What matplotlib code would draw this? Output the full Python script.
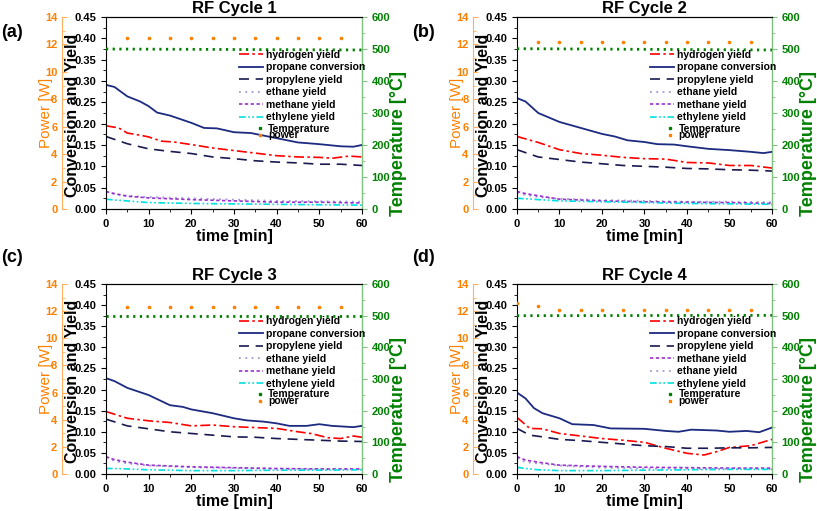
import numpy as np
import matplotlib
matplotlib.use('Agg')
import matplotlib.pyplot as plt
from matplotlib.ticker import MultipleLocator
from matplotlib.lines import Line2D

plt.rcParams['font.family'] = ['Liberation Sans', 'DejaVu Sans']

# Час для побічних продуктів та пропілену
t_std = [0, 5, 10, 15, 20, 25, 30, 35, 40, 45, 50, 55, 60]
t_minor = [0, 2, 5, 10, 20, 30, 40, 50, 60]

# Цикл 1
t_a_prop = [0, 2, 5, 8, 10, 12, 15, 20, 23, 26, 30, 34, 40, 45, 50, 55, 58, 60]
prop_a = [0.291, 0.286, 0.264, 0.252, 0.241, 0.226, 0.219, 0.202, 0.190, 0.189, 0.180, 0.178, 0.166, 0.156, 0.152, 0.147, 0.146, 0.150]
t_a_h2 = [0, 3, 5, 8, 10, 13, 16, 20, 25, 30, 35, 40, 45, 50, 53, 57, 60]
h2_a = [0.195, 0.190, 0.178, 0.173, 0.169, 0.159, 0.157, 0.151, 0.143, 0.137, 0.131, 0.125, 0.122, 0.121, 0.119, 0.124, 0.122]
pyl_a = [0.170, 0.153, 0.141, 0.135, 0.130, 0.122, 0.118, 0.113, 0.110, 0.108, 0.105, 0.105, 0.102]
meth_a = [0.041, 0.036, 0.030, 0.026, 0.022, 0.019, 0.016, 0.016, 0.014]
eth_a = [0.040, 0.035, 0.031, 0.028, 0.025, 0.022, 0.019, 0.018, 0.017]
ethy_a = [0.023, 0.021, 0.019, 0.015, 0.013, 0.012, 0.011, 0.010, 0.009]

# Цикл 2
t_b_prop = [0, 2, 5, 10, 15, 20, 23, 26, 30, 33, 37, 40, 45, 50, 55, 58, 60]
prop_b = [0.260, 0.252, 0.225, 0.204, 0.190, 0.176, 0.170, 0.161, 0.157, 0.152, 0.151, 0.147, 0.141, 0.138, 0.134, 0.131, 0.134]
h2_b = [0.170, 0.156, 0.139, 0.130, 0.126, 0.121, 0.118, 0.117, 0.109, 0.108, 0.102, 0.102, 0.096]
pyl_b = [0.139, 0.122, 0.116, 0.110, 0.106, 0.102, 0.100, 0.098, 0.095, 0.094, 0.092, 0.091, 0.089]
meth_b = [0.041, 0.036, 0.031, 0.023, 0.019, 0.017, 0.016, 0.015, 0.013]
eth_b = [0.038, 0.033, 0.028, 0.024, 0.021, 0.019, 0.017, 0.017, 0.016]
ethy_b = [0.025, 0.024, 0.022, 0.019, 0.017, 0.015, 0.013, 0.012, 0.011]

# Цикл 3
t_c_prop = [0, 2, 5, 10, 15, 18, 20, 25, 30, 33, 37, 40, 43, 47, 50, 53, 58, 60]
prop_c = [0.227, 0.220, 0.204, 0.187, 0.163, 0.159, 0.153, 0.144, 0.132, 0.127, 0.124, 0.120, 0.114, 0.114, 0.118, 0.114, 0.111, 0.114]
t_c_h2 = [0, 5, 10, 15, 20, 25, 30, 35, 40, 45, 48, 52, 55, 58, 60]
h2_c = [0.148, 0.132, 0.126, 0.122, 0.114, 0.116, 0.112, 0.110, 0.108, 0.100, 0.096, 0.086, 0.084, 0.090, 0.087]
pyl_c = [0.130, 0.114, 0.107, 0.100, 0.096, 0.092, 0.088, 0.087, 0.084, 0.082, 0.080, 0.078, 0.077]
meth_c = [0.041, 0.034, 0.028, 0.021, 0.017, 0.015, 0.013, 0.012, 0.012]
eth_c = [0.038, 0.031, 0.025, 0.020, 0.016, 0.014, 0.012, 0.011, 0.011]
ethy_c = [0.013, 0.013, 0.012, 0.010, 0.008, 0.008, 0.009, 0.009, 0.010]

# Цикл 4
t_d_prop = [0, 2, 4, 6, 10, 13, 18, 22, 30, 35, 38, 41, 47, 50, 54, 57, 60]
prop_d = [0.193, 0.179, 0.156, 0.144, 0.132, 0.118, 0.116, 0.108, 0.107, 0.102, 0.100, 0.105, 0.103, 0.100, 0.102, 0.099, 0.110]
t_d_h2 = [0, 3, 6, 10, 15, 20, 25, 30, 35, 40, 44, 47, 50, 55, 60]
h2_d = [0.134, 0.108, 0.107, 0.096, 0.090, 0.084, 0.080, 0.075, 0.061, 0.049, 0.045, 0.053, 0.063, 0.067, 0.082]
t_d_pyl = [0, 3, 6, 10, 15, 20, 25, 30, 35, 40, 45, 50, 55, 60]
pyl_d = [0.108, 0.092, 0.088, 0.082, 0.079, 0.075, 0.071, 0.067, 0.065, 0.061, 0.061, 0.062, 0.062, 0.063]
meth_d = [0.041, 0.033, 0.028, 0.021, 0.018, 0.016, 0.015, 0.014, 0.014]
eth_d = [0.037, 0.028, 0.025, 0.020, 0.015, 0.013, 0.012, 0.012, 0.012]
ethy_d = [0.016, 0.013, 0.010, 0.008, 0.008, 0.009, 0.010, 0.011, 0.011]

# Температура та потужність
t_temp = [0, 60]
temp_a = [500, 497]
temp_b = [501, 497]
temp_c = [500, 500]
temp_d = [500, 501]
t_pow = [5, 10, 15, 20, 25, 30, 35, 40, 45, 50, 55]
pow_a = [12.5] * 11
pow_b = [12.2] * 11
pow_c = [12.3] * 11
t_pow_d = [0, 5, 10, 15, 20, 25, 30, 35, 40, 45, 50, 55]
pow_d = [12.6, 12.35, 12.05, 12.05, 12.05, 12.05, 12.05, 12.05, 12.05, 12.05, 12.05, 12.05]

ORANGE = '#ff8000'
GREEN = '#008000'


def draw_panel(pos, title, letter, letter_y, prop, h2, pyl, meth, eth, ethy, temp, power, methane_first=False):
    ax = fig.add_axes(pos)
    l_h2, = ax.plot(h2[0], h2[1], color='red', lw=1.2, ls=(0, (6, 2, 1.5, 2)), label='hydrogen yield')
    l_prop, = ax.plot(prop[0], prop[1], color='#1c2a80', lw=1.3, label='propane conversion')
    l_pyl, = ax.plot(pyl[0], pyl[1], color='#1a1a50', lw=1.2, ls=(0, (6, 4)), label='propylene yield')
    l_eth, = ax.plot(t_minor, eth, color='#9c9cd0', lw=1.3, ls=(0, (1, 2.5)), label='ethane yield')
    l_meth, = ax.plot(t_minor, meth, color='#9b30d0', lw=1.2, ls=(0, (2, 1.5)), label='methane yield')
    l_ethy, = ax.plot(t_minor, ethy, color='#00e0e0', lw=1.2, ls=(0, (4, 1.5, 1, 1.5, 1, 1.5)), label='ethylene yield')
    ax.set_xlim(0, 60)
    ax.set_ylim(0, 0.45)
    ax.xaxis.set_major_locator(MultipleLocator(10))
    ax.xaxis.set_minor_locator(MultipleLocator(5))
    ax.yaxis.set_major_locator(MultipleLocator(0.05))
    ax.yaxis.set_minor_locator(MultipleLocator(0.025))
    ax.yaxis.set_major_formatter(plt.FormatStrFormatter('%.2f'))
    ax.tick_params(which='both', direction='out', labelsize=8)
    ax.tick_params(which='major', length=3.5)
    ax.tick_params(which='minor', length=2)
    for lab in ax.get_xticklabels() + ax.get_yticklabels():
        lab.set_fontweight('bold')
    ax.set_xlabel('time [min]', fontsize=11.5, fontweight='bold', labelpad=0)
    ax.set_ylabel('Conversion and Yield', fontsize=11.5, fontweight='bold')
    ax.yaxis.set_label_coords(-0.10, 0.49)
    ax.set_title(title, fontsize=12, fontweight='bold', pad=3)
    ax.text(-0.41, letter_y, letter, transform=ax.transAxes, fontsize=13, fontweight='bold', ha='left', va='center')

    # Вісь температури (праворуч)
    ax_t = ax.twinx()
    ax_t.plot(t_temp, temp, color=GREEN, lw=2, ls=(0, (0.8, 1.6)))
    ax_t.set_ylim(0, 600)
    ax_t.yaxis.set_major_locator(MultipleLocator(100))
    ax_t.yaxis.set_minor_locator(MultipleLocator(50))
    ax_t.spines['right'].set_color('#80c080')
    ax_t.spines['left'].set_visible(False)
    ax_t.tick_params(which='both', direction='out', colors='#80c080', labelcolor=GREEN, labelsize=8)
    ax_t.tick_params(which='major', length=3.5)
    ax_t.tick_params(which='minor', length=2)
    for lab in ax_t.get_yticklabels():
        lab.set_fontweight('bold')
    ax_t.set_ylabel('Temperature [°C]', fontsize=13, fontweight='bold', color=GREEN)
    ax_t.yaxis.set_label_coords(1.11, 0.34)

    # Вісь потужності (ліворуч, зміщена)
    ax_p = ax.twinx()
    ax_p.plot(power[0], power[1], 'o', color=ORANGE, ms=1.6)
    ax_p.set_ylim(0, 14)
    ax_p.yaxis.set_ticks_position('left')
    ax_p.yaxis.set_label_position('left')
    ax_p.spines['left'].set_position(('outward', 31.5))
    ax_p.spines['left'].set_color('#ffb060')
    ax_p.spines['right'].set_visible(False)
    ax_p.spines['top'].set_visible(False)
    ax_p.spines['bottom'].set_visible(False)
    ax_p.yaxis.set_major_locator(MultipleLocator(2))
    ax_p.yaxis.set_minor_locator(MultipleLocator(1))
    ax_p.tick_params(which='both', direction='in', colors='#ffb060', labelcolor=ORANGE, labelsize=8)
    ax_p.tick_params(which='major', length=3.5)
    ax_p.tick_params(which='minor', length=2)
    for lab in ax_p.get_yticklabels():
        lab.set_fontweight('bold')
    ax_p.set_ylabel('Power [W]', fontsize=11, color=ORANGE)
    ax_p.yaxis.set_label_coords(-0.207, 0.5)

    if methane_first:
        handles = [l_h2, l_prop, l_pyl, l_meth, l_eth, l_ethy]
    else:
        handles = [l_h2, l_prop, l_pyl, l_eth, l_meth, l_ethy]
    leg1 = ax_p.legend(handles=handles, loc='upper left', bbox_to_anchor=(0.52, 0.83), frameon=False,
                       prop={'size': 7.5, 'weight': 'bold'}, handlelength=2.3, handletextpad=0.3,
                       labelspacing=0.24, borderpad=0, borderaxespad=0)
    ax_p.add_artist(leg1)
    # Точкові маркери в легенді для температури та потужності
    h_temp = Line2D([], [], ls='none', marker='s', ms=1.8, color=GREEN, label='Temperature')
    h_pow = Line2D([], [], ls='none', marker='s', ms=1.8, color=ORANGE, label='power')
    ax_p.legend(handles=[h_temp, h_pow], loc='upper left', bbox_to_anchor=(0.585, 0.445), frameon=False,
                prop={'size': 7.5, 'weight': 'bold'}, handlelength=0.8, handletextpad=0.4,
                labelspacing=-0.3, borderpad=0, borderaxespad=0, numpoints=1)
    return ax


fig = plt.figure(figsize=(8.17, 5.11), dpi=100)

draw_panel([0.1297, 0.591, 0.3133, 0.3757], 'RF Cycle 1', '(a)', 0.92,
           (t_a_prop, prop_a), (t_a_h2, h2_a), (t_std, pyl_a), meth_a, eth_a, ethy_a,
           temp_a, (t_pow, pow_a))
draw_panel([0.6328, 0.591, 0.3121, 0.3757], 'RF Cycle 2', '(b)', 0.92,
           (t_b_prop, prop_b), (t_std, h2_b), (t_std, pyl_b), meth_b, eth_b, ethy_b,
           temp_b, (t_pow, pow_b))
draw_panel([0.1297, 0.0724, 0.3133, 0.3718], 'RF Cycle 3', '(c)', 1.137,
           (t_c_prop, prop_c), (t_c_h2, h2_c), (t_std, pyl_c), meth_c, eth_c, ethy_c,
           temp_c, (t_pow, pow_c))
draw_panel([0.6328, 0.0724, 0.3121, 0.3718], 'RF Cycle 4', '(d)', 1.137,
           (t_d_prop, prop_d), (t_d_h2, h2_d), (t_d_pyl, pyl_d), meth_d, eth_d, ethy_d,
           temp_d, (t_pow_d, pow_d), methane_first=True)

plt.savefig('out.png', dpi=100)
